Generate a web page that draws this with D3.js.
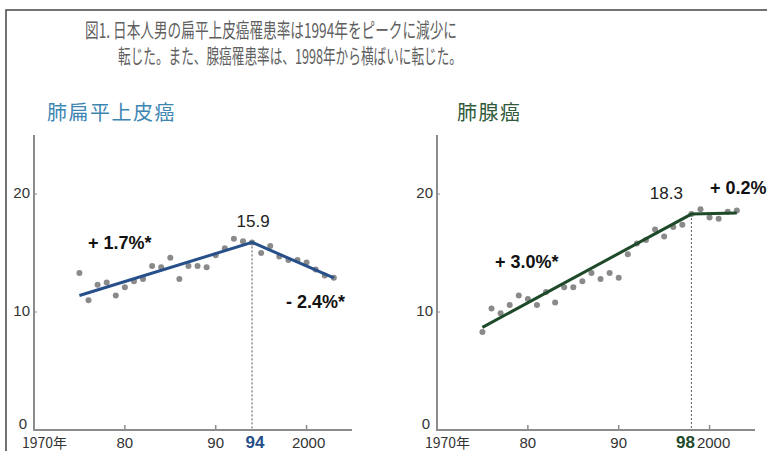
<!DOCTYPE html>
<html>
<head>
<meta charset="utf-8">
<script src="https://cdn.jsdelivr.net/npm/d3@7"></script>
<style>
  body { margin: 0; background: #fff; overflow: hidden; }
  svg { display: block; font-family: "Liberation Sans", Arial, sans-serif; }
  .jp { font-family: "Noto Sans CJK JP", sans-serif; }
</style>
</head>
<body>
<svg id="chart" width="767" height="451"></svg>
<script>
// Years shown as dots
const years = [1975, 1976, 1977, 1978, 1979, 1980, 1981, 1982, 1983, 1984,
               1985, 1986, 1987, 1988, 1989, 1990, 1991, 1992, 1993, 1994,
               1995, 1996, 1997, 1998, 1999, 2000, 2001, 2002, 2003];

// Incidence rates
const squamousRates = [13.3, 11.0, 12.3, 12.5, 11.4, 12.1, 12.6, 12.8, 13.9, 13.8,
                       14.6, 12.8, 13.9, 13.9, 13.8, 14.8, 15.4, 16.2, 16.0, 15.9,
                       15.0, 15.6, 14.7, 14.4, 14.4, 14.2, 13.6, 13.1, 12.9];
const adenoRates = [8.3, 10.3, 9.9, 10.6, 11.4, 11.1, 10.6, 11.7, 10.8, 12.1,
                    12.1, 12.6, 13.3, 12.8, 13.3, 12.9, 14.9, 15.8, 16.1, 17.0,
                    16.4, 17.2, 17.4, 18.3, 18.7, 18.0, 17.9, 18.5, 18.6];

// Joinpoint trend lines [year, rate]
const squamousTrend = [[1975, 11.4], [1994, 15.9], [2003, 12.9]];
const adenoTrend = [[1975, 8.7], [1998, 18.3], [2003, 18.4]];

// Axis ticks
const xTicks = [1970, 1980, 1990, 2000];
const xTickLabels = ["1970年", "80", "90", "2000"];
const yTicks = [0, 10, 20];

const svg = d3.select("#chart");

// Frame
svg.append("path")
    .attr("d", "M6,451 L6,10 L767,10")
    .attr("fill", "none")
    .attr("stroke", "#444")
    .attr("stroke-width", 1.5);

// Title
const title = svg.append("g").attr("class", "jp").attr("fill", "#5f5f5f").attr("font-size", 20);
title.append("text")
    .attr("x", 85).attr("y", 38)
    .attr("textLength", 372).attr("lengthAdjust", "spacingAndGlyphs")
    .text("図1. 日本人男の扁平上皮癌罹患率は1994年をピークに減少に");
title.append("text")
    .attr("x", 118).attr("y", 64)
    .attr("textLength", 344).attr("lengthAdjust", "spacingAndGlyphs")
    .text("転じた。また、腺癌罹患率は、1998年から横ばいに転じた。");

const y = d3.scaleLinear().domain([0, 25]).range([430, 135]);

function drawPanel(opt) {
    const x = d3.scaleLinear().domain([1970, 2005]).range([opt.left, opt.left + 318]);
    const g = svg.append("g");

    // subtitle
    g.append("text")
        .attr("class", "jp")
        .attr("x", opt.titleX).attr("y", 120)
        .attr("font-size", 20)
        .attr("letter-spacing", 1.5)
        .attr("fill", opt.titleColor)
        .text(opt.title);

    // axes
    g.append("line")
        .attr("x1", x(1970)).attr("x2", x(1970))
        .attr("y1", y(25)).attr("y2", y(0))
        .attr("stroke", "#8c8c8c").attr("stroke-width", 2);
    g.append("line")
        .attr("x1", x(1970) - 1).attr("x2", x(2005))
        .attr("y1", y(0)).attr("y2", y(0))
        .attr("stroke", "#8c8c8c").attr("stroke-width", 2);

    // x ticks (inward)
    g.selectAll(".xt")
        .data(xTicks.slice(1))
        .enter().append("line")
        .attr("x1", d => x(d)).attr("x2", d => x(d))
        .attr("y1", y(0)).attr("y2", y(0) - 5)
        .attr("stroke", "#8c8c8c").attr("stroke-width", 1.5);

    g.selectAll(".xl")
        .data(xTicks)
        .enter().append("text")
        .attr("class", (d, i) => i === 0 ? "jp" : null)
        .attr("x", (d, i) => i === 0 ? x(d) - 12 : x(d) + (d === 2000 ? opt.dx2000 : 0))
        .attr("y", 448)
        .attr("text-anchor", (d, i) => i === 0 ? "start" : "middle")
        .attr("font-size", (d, i) => i === 0 ? 14 : 15)
        .attr("fill", "#333")
        .text((d, i) => xTickLabels[i]);

    // y ticks
    g.selectAll(".yt")
        .data(yTicks.slice(1))
        .enter().append("line")
        .attr("x1", x(1970)).attr("x2", x(1970) + 3)
        .attr("y1", d => y(d)).attr("y2", d => y(d))
        .attr("stroke", "#8c8c8c").attr("stroke-width", 1);

    g.selectAll(".yl")
        .data(yTicks)
        .enter().append("text")
        .attr("x", d => x(1970) - (d === 0 ? 7 : 4))
        .attr("y", d => d === 0 ? y(d) - 1 : y(d) + 4)
        .attr("text-anchor", "end")
        .attr("font-size", 15)
        .attr("fill", "#333")
        .text(d => d);

    // dashed line at joinpoint
    const peak = opt.trend[1];
    g.append("line")
        .attr("x1", x(peak[0])).attr("x2", x(peak[0]))
        .attr("y1", y(peak[1])).attr("y2", y(0))
        .attr("stroke", "#555").attr("stroke-width", 1)
        .attr("stroke-dasharray", "2,2");

    // peak year label
    g.append("text")
        .attr("x", x(peak[0]) + opt.dxPeakYear).attr("y", 448)
        .attr("text-anchor", "middle")
        .attr("font-size", 17).attr("font-weight", "bold")
        .attr("fill", opt.lineColor)
        .text(String(peak[0]).slice(2));

    // dots
    g.selectAll(".dot")
        .data(years)
        .enter().append("circle")
        .attr("cx", d => x(d))
        .attr("cy", (d, i) => y(opt.rates[i]))
        .attr("r", 3)
        .attr("fill", "#8a8a8a");

    // trend line
    g.append("path")
        .datum(opt.trend)
        .attr("d", d3.line().x(d => x(d[0])).y(d => y(d[1])))
        .attr("fill", "none")
        .attr("stroke", opt.lineColor)
        .attr("stroke-width", 3);

    // peak value
    g.append("text")
        .attr("x", x(peak[0]) + opt.dxPeakVal).attr("y", y(peak[1]) - 15)
        .attr("text-anchor", "middle")
        .attr("font-size", 17)
        .attr("fill", "#222")
        .text(peak[1].toFixed(1));

    // slope labels
    opt.slopes.forEach(s => {
        g.append("text")
            .attr("x", s.x).attr("y", s.y)
            .attr("font-size", 18).attr("font-weight", "bold")
            .attr("fill", "#111")
            .text(s.text);
    });
}

drawPanel({
    left: 34,
    title: "肺扁平上皮癌",
    titleX: 47,
    titleColor: "#3d86b2",
    lineColor: "#27508a",
    rates: squamousRates,
    trend: squamousTrend,
    dx2000: 2,
    dxPeakYear: 3,
    dxPeakVal: 1,
    slopes: [
        { text: "+ 1.7%*", x: 88, y: 249 },
        { text: "- 2.4%*", x: 286, y: 308 }
    ]
});

drawPanel({
    left: 437,
    title: "肺腺癌",
    titleX: 457,
    titleColor: "#2f5a3a",
    lineColor: "#1e4a2a",
    rates: adenoRates,
    trend: adenoTrend,
    dx2000: 4,
    dxPeakYear: -6,
    dxPeakVal: -25,
    slopes: [
        { text: "+ 3.0%*", x: 495, y: 268 },
        { text: "+ 0.2%", x: 710, y: 194 }
    ]
});
</script>
</body>
</html>
